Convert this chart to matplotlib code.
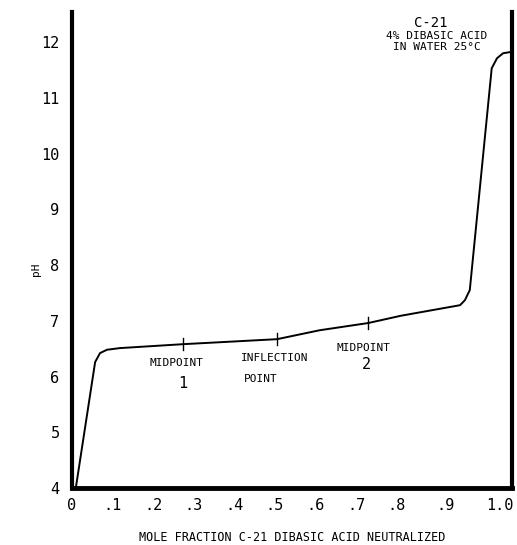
import matplotlib
matplotlib.use("Agg")
import matplotlib.pyplot as plt

# Titration curve (mole fraction neutralized, pH)
mole_fraction = [0.010, 0.057, 0.069, 0.086, 0.118, 0.273, 0.505, 0.61, 0.73, 0.81,
                 0.956, 0.968, 0.980, 1.034, 1.047, 1.062, 1.079]
ph_values = [4.03, 6.26, 6.42, 6.48, 6.51, 6.58, 6.67, 6.83, 6.96, 7.09,
             7.28, 7.37, 7.55, 11.53, 11.71, 11.80, 11.82]

# marked points on the curve
mark_x = [0.273, 0.505, 0.73]
mark_y = [6.58, 6.67, 6.96]

x_tick_pos = [0.0, 0.1, 0.2, 0.3, 0.4, 0.5, 0.6, 0.7, 0.8, 0.92, 1.055]
x_tick_labels = ["0", ".1", ".2", ".3", ".4", ".5", ".6", ".7", ".8", ".9", "1.0"]
y_ticks = [4, 5, 6, 7, 8, 9, 10, 11, 12]

FONT = "DejaVu Sans Mono"

fig = plt.figure(figsize=(5.17, 5.45), dpi=100)
ax = fig.add_axes([72/517, 1-488/545, (512-72)/517, (488-12)/545])

ax.plot(mole_fraction, ph_values, color="black", lw=1.4, solid_joinstyle="round")
for mx, my in zip(mark_x, mark_y):
    ax.plot([mx, mx], [my - 0.11, my + 0.11], color="black", lw=1.0)

ax.set_xlim(0, 1.084)
ax.set_ylim(4, 12.54)

ax.spines["top"].set_visible(False)
for s, w in (("left", 3.0), ("bottom", 3.5), ("right", 3.0)):
    ax.spines[s].set_linewidth(w)
    ax.spines[s].set_color("black")

ax.set_xticks(x_tick_pos)
ax.set_xticklabels(x_tick_labels, family=FONT, fontsize=11)
ax.set_yticks(y_ticks)
ax.set_yticklabels([str(v) for v in y_ticks], family=FONT, fontsize=11)
ax.tick_params(axis="both", length=0, pad=7)
ax.tick_params(axis="y", pad=9)

ax.set_ylabel("pH", family=FONT, fontsize=8)
ax.yaxis.set_label_coords(-0.07, 0.46)
ax.set_xlabel("MOLE FRACTION C-21 DIBASIC ACID NEUTRALIZED", family=FONT,
              fontsize=8.5, labelpad=13)

tk = dict(family=FONT, ha="center", va="center", color="black")
ax.text(0.258, 6.25, "MIDPOINT", fontsize=8, **tk)
ax.text(0.273, 5.88, "1", fontsize=11, **tk)
ax.text(0.50, 6.33, "INFLECTION", fontsize=8, **tk)
ax.text(0.465, 5.95, "POINT", fontsize=8, **tk)
ax.text(0.718, 6.51, "MIDPOINT", fontsize=8, **tk)
ax.text(0.725, 6.21, "2", fontsize=11, **tk)

ax.text(0.885, 12.35, "C-21", fontsize=10, **tk)
ax.text(0.898, 12.11, "4% DIBASIC ACID", fontsize=8, **tk)
ax.text(0.90, 11.91, "IN WATER 25°C", fontsize=8, **tk)

fig.savefig("out.png", dpi=100)
